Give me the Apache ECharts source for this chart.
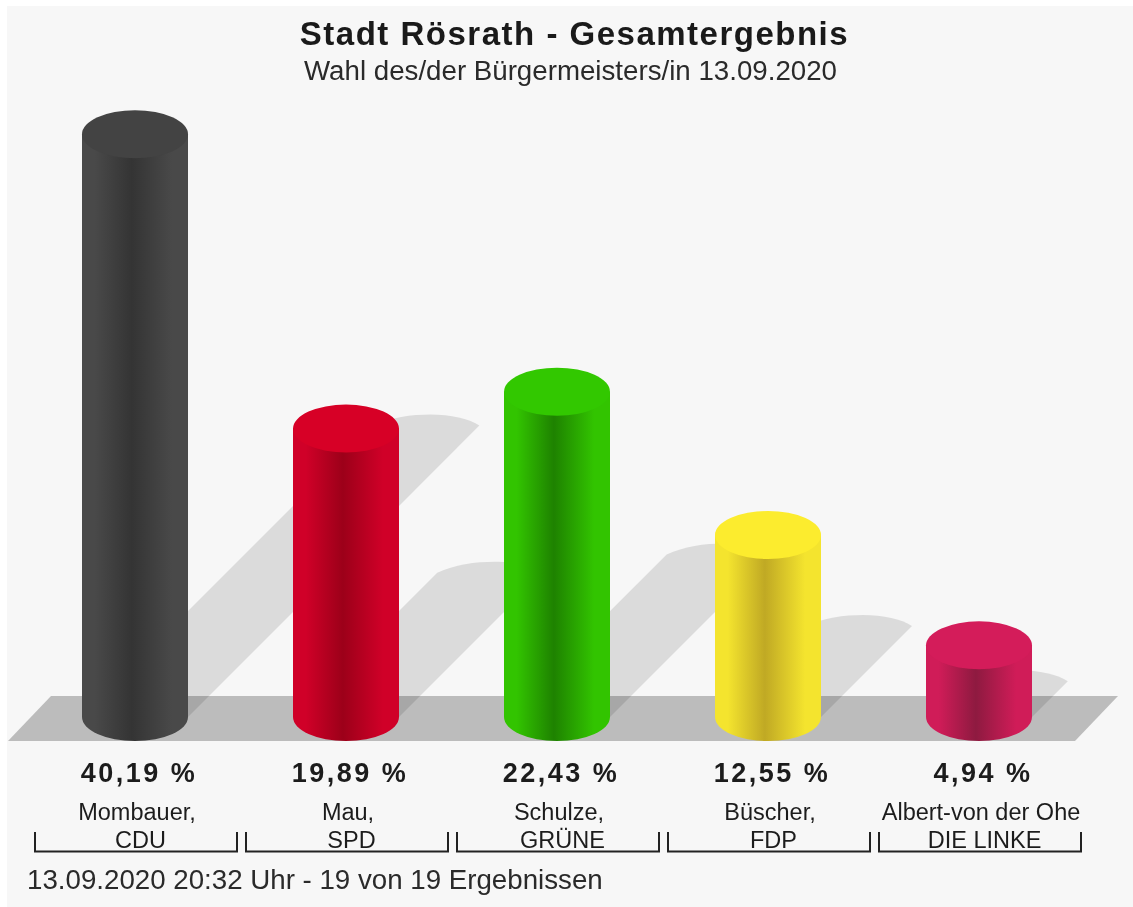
<!DOCTYPE html>
<html>
<head>
<meta charset="utf-8">
<script src="https://cdn.jsdelivr.net/npm/echarts@6/dist/echarts.min.js"></script>
<style>
html,body{margin:0;padding:0;background:#fff;}
#chart{width:1133px;height:907px;filter:blur(0.55px);}
#chart text[style*="33px"]{letter-spacing:1.5px;}
#chart text[style*="27px"]{letter-spacing:2.5px;}
</style>
</head>
<body>
<div id="chart"></div>
<script>
var names = ["Mombauer,", "Mau,", "Schulze,", "Büscher,", "Albert-von der Ohe"];
var parties = ["CDU", "SPD", "GRÜNE", "FDP", "DIE LINKE"];
var values = [40.19, 19.89, 22.43, 12.55, 4.94];
var capColors = ["#434343", "#d70026", "#32c800", "#fcec2e", "#d41c5a"];
var edgeColors = ["#494949", "#d00028", "#32c400", "#f4e42e", "#d01c58"];
var coreColors = ["#343434", "#9c0019", "#1e8200", "#c0a924", "#8e1a40"];
var titleText = "Stadt Rösrath - Gesamtergebnis";
var subtitleText = "Wahl des/der Bürgermeisters/in 13.09.2020";
var footerText = "13.09.2020 20:32 Uhr - 19 von 19 Ergebnissen";

var FONT = '"Liberation Sans", Arial, sans-serif';
var chart = echarts.init(document.getElementById('chart'), null, {renderer: 'svg'});
var RX = 53, RY = 24;

function pct(v) { return v.toFixed(2).replace('.', ',') + ' %'; }

function renderShadow(params, api) {
  var i = api.value(0);
  var base = api.coord([i, 0]);
  var top = api.coord([i, api.value(1)]);
  var d = (base[1] - top[1]) / 2;
  var x = base[0], y = base[1];
  var tx = x + d, ty = y - d;
  var path = 'M' + (x - RX) + ' ' + y +
    'L' + (tx - RX) + ' ' + ty +
    'C' + (tx - 36) + ' ' + (ty - 8) + ' ' + (tx - 15) + ' ' + (ty - 11) + ' ' + (tx + 4) + ' ' + (ty - 11) +
    'C' + (tx + 25) + ' ' + (ty - 11) + ' ' + (tx + 42) + ' ' + (ty - 7) + ' ' + (tx + RX) + ' ' + ty +
    'L' + (x + RX) + ' ' + y + 'Z';
  return {type: 'path', shape: {pathData: path}, style: {fill: 'rgba(0,0,0,0.11)'}};
}

function renderCylinder(params, api) {
  var i = api.value(0);
  var base = api.coord([i, 0]);
  var top = api.coord([i, api.value(1)]);
  var x = base[0];
  var body = 'M' + (x - RX) + ' ' + top[1] +
    'L' + (x + RX) + ' ' + top[1] +
    'L' + (x + RX) + ' ' + base[1] +
    'A' + RX + ' ' + RY + ' 0 0 1 ' + (x - RX) + ' ' + base[1] + 'Z';
  var cap = 'M' + (x - RX) + ' ' + top[1] +
    'A' + RX + ' ' + RY + ' 0 1 1 ' + (x + RX) + ' ' + top[1] +
    'A' + RX + ' ' + RY + ' 0 1 1 ' + (x - RX) + ' ' + top[1] + 'Z';
  var e = edgeColors[i], c = coreColors[i];
  return {
    type: 'group',
    children: [
      {type: 'path', shape: {pathData: body}, style: {
        fill: new echarts.graphic.LinearGradient(0, 0, 1, 0, [
          {offset: 0, color: e}, {offset: 0.12, color: e},
          {offset: 0.47, color: c}, {offset: 0.85, color: e}, {offset: 1, color: e}
        ])
      }},
      {type: 'path', shape: {pathData: cap}, style: {fill: capColors[i]}}
    ]
  };
}

function renderAnnotations(params, api) {
  var i = api.value(0);
  var c = api.coord([i, 0]);
  var half = api.size([1, 0])[0] / 2 - 4.5;
  var cx = c[0] + 1;
  return {
    type: 'group',
    children: [
      {type: 'text', style: {text: pct(api.value(1)), x: c[0] + 4, y: 773, align: 'center', verticalAlign: 'middle',
        font: 'bold 27px ' + FONT, fill: '#1c1c1c'}},
      {type: 'polyline', shape: {points: [[cx - half, 832], [cx - half, 851.5], [cx + half, 851.5], [cx + half, 832]]},
        style: {stroke: '#222', lineWidth: 2, fill: 'none'}}
    ]
  };
}

var indexed = values.map(function (v, i) { return [i, v]; });

chart.setOption({
  animation: false,
  backgroundColor: '#ffffff',
  title: [
    {text: titleText, left: 569.5, top: 12, textAlign: 'center', textStyle: {fontFamily: FONT, fontWeight: 'bold', fontSize: 33, color: '#1a1a1a'}},
    {text: subtitleText, left: 565.5, top: 51, textAlign: 'center', textStyle: {fontFamily: FONT, fontWeight: 'normal', fontSize: 27.7, color: '#2a2a2a'}},
    {text: footerText, left: 22, top: 860, textStyle: {fontFamily: FONT, fontWeight: 'normal', fontSize: 27.7, color: '#2a2a2a'}}
  ],
  grid: {left: 29.5, width: 1055, top: 64.5, height: 652.5},
  xAxis: {
    type: 'category',
    data: names,
    axisLine: {show: false},
    axisTick: {show: false},
    axisLabel: {
      interval: 0,
      margin: 81,
      color: '#1c1c1c',
      fontFamily: FONT,
      fontSize: 23.5,
      lineHeight: 28,
      formatter: function (v, i) { return '{a|' + v + '}\n{b|' + parties[i] + '}'; },
      rich: {
        a: {fontFamily: FONT, fontSize: 23.5, lineHeight: 28, color: '#1c1c1c', padding: [0, 0, 0, 4]},
        b: {fontFamily: FONT, fontSize: 23.5, lineHeight: 28, color: '#1c1c1c', padding: [0, 0, 0, 11]}
      }
    }
  },
  yAxis: {type: 'value', min: 0, max: 45, show: false},
  graphic: [
    {type: 'rect', z: 0, silent: true, shape: {x: 7, y: 6, width: 1126, height: 901}, style: {fill: '#f7f7f7'}},
    {type: 'polygon', z: 1, silent: true, shape: {points: [[51, 696], [1118, 696], [1075, 741], [8, 741]]}, style: {fill: '#bcbcbc'}}
  ],
  series: [
    {type: 'custom', z: 2, coordinateSystem: 'cartesian2d', data: indexed, renderItem: renderShadow, silent: true},
    {type: 'custom', z: 3, coordinateSystem: 'cartesian2d', data: indexed, renderItem: renderCylinder, silent: true},
    {type: 'custom', z: 4, coordinateSystem: 'cartesian2d', data: indexed, renderItem: renderAnnotations, silent: true}
  ]
});
</script>
</body>
</html>
